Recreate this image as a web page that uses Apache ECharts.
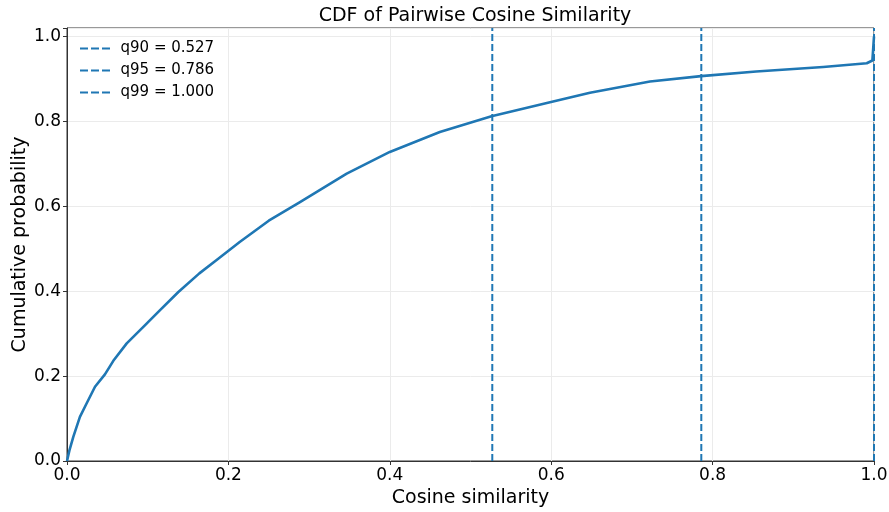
<!DOCTYPE html>
<html><head><meta charset="utf-8">
<script src="https://cdn.jsdelivr.net/npm/echarts@6/dist/echarts.min.js"></script>
<style>html,body{margin:0;padding:0;background:#fff}#c{width:889px;height:512px}</style>
</head><body><div id="c"></div>
<script>
const cdfX = [0, 0.003, 0.0078, 0.016, 0.0244, 0.0347, 0.047, 0.0574, 0.074, 0.0946, 0.115, 0.138, 0.164, 0.185, 0.214, 0.25, 0.2887, 0.3466, 0.4, 0.462, 0.526, 0.5985, 0.648, 0.7224, 0.7856, 0.854, 0.937, 0.991, 0.998, 1.0, 1.0];
const cdfY = [0, 0.025, 0.057, 0.104, 0.136, 0.175, 0.204, 0.236, 0.277, 0.316, 0.355, 0.398, 0.442, 0.473, 0.516, 0.566, 0.610, 0.677, 0.728, 0.775, 0.812, 0.845, 0.8675, 0.894, 0.9066, 0.9176, 0.928, 0.937, 0.9435, 0.946, 1.0];
const quantNames = ['q90 = 0.527', 'q95 = 0.786', 'q99 = 1.000'];
const quantValues = [0.527, 0.786, 1.0];
const xTicks = [0, 0.2, 0.4, 0.6, 0.8, 1.0];
const yTicks = [0, 0.2, 0.4, 0.6, 0.8, 1.0];

const blue = '#1f77b4';
const font = 'DejaVu Sans';
const series = [{
  name: 'CDF', type: 'line', data: cdfX.map((x, i) => [x, cdfY[i]]),
  showSymbol: false, symbol: 'none',
  lineStyle: {color: blue, width: 2.6, join: 'round'}, z: 3
}];
quantValues.forEach((q, i) => {
  series.push({
    name: quantNames[i], type: 'line', data: [[q, 0], [q, 1.02]],
    symbol: 'none', lineStyle: {color: blue, width: 2, type: [7, 3]}, itemStyle: {color: blue}, z: 2
  });
});
const dashIcon = 'path://M0,0h8v2h-8z M11,0h8v2h-8z M22,0h8v2h-8z';
const chart = echarts.init(document.getElementById('c'));
chart.setOption({
  animation: false,
  title: {text: 'CDF of Pairwise Cosine Similarity', left: 470, top: 2, textAlign: 'center',
    textStyle: {fontFamily: font, fontSize: 19, fontWeight: 'normal', color: '#000'}},
  legend: {data: quantNames.map(n => ({name: n, icon: dashIcon})), left: 80, top: 41, padding: 0, orient: 'vertical', itemGap: 7, itemWidth: 31, itemHeight: 2,
    textStyle: {fontFamily: font, fontSize: 15, color: '#000', padding: [0, 0, 0, 5]}},
  grid: {left: 67, right: 15, top: 28, bottom: 51, show: true, borderColor: '#333', borderWidth: 1, containLabel: false, outerBoundsMode: 'none'},
  xAxis: {type: 'value', min: 0, max: 1, interval: 0.2,
    name: 'Cosine similarity', nameLocation: 'middle', nameGap: 28, nameMoveOverlap: false,
    nameTextStyle: {fontFamily: font, fontSize: 19, color: '#000'},
    axisLine: {lineStyle: {color: '#333'}}, axisTick: {show: true, length: 4, lineStyle: {color: '#333'}},
    axisLabel: {fontFamily: font, fontSize: 17, color: '#000', margin: 6, formatter: v => xTicks.some(t => Math.abs(t - v) < 1e-6) ? v.toFixed(1) : ''},
    splitLine: {show: true, lineStyle: {color: '#ebebeb', width: 1}}},
  yAxis: {type: 'value', min: 0, max: 1.02, interval: 0.2,
    name: 'Cumulative probability', nameLocation: 'middle', nameGap: 37, nameRotate: 90, nameMoveOverlap: false,
    nameTextStyle: {fontFamily: font, fontSize: 19, color: '#000'},
    axisLine: {show: true, lineStyle: {color: '#333'}}, axisTick: {show: true, length: 4, lineStyle: {color: '#333'}},
    axisLabel: {fontFamily: font, fontSize: 17, color: '#000', margin: 6, formatter: v => yTicks.some(t => Math.abs(t - v) < 1e-6) ? v.toFixed(1) : ''},
    splitLine: {show: true, lineStyle: {color: '#ebebeb', width: 1}}},
  series: series
});
</script></body></html>
